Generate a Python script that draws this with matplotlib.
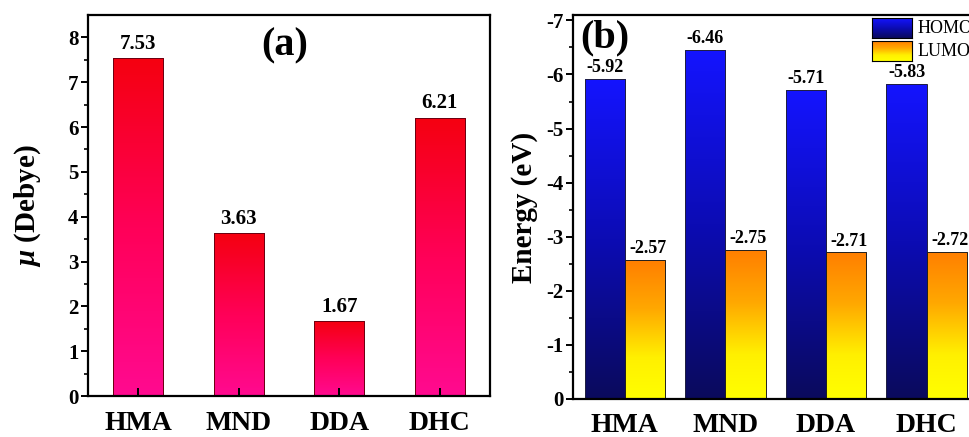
import numpy as np
import matplotlib
matplotlib.use("Agg")
import matplotlib.pyplot as plt
from matplotlib.colors import LinearSegmentedColormap

# ---- data ----
molecules = ["HMA", "MND", "DDA", "DHC"]
dipole = [7.53, 3.63, 1.67, 6.21]
homo = [-5.92, -6.46, -5.71, -5.83]
lumo = [-2.57, -2.75, -2.71, -2.72]
dipole_ticks = [0, 1, 2, 3, 4, 5, 6, 7, 8]
energy_ticks = [0, -1, -2, -3, -4, -5, -6, -7]

plt.rcParams['font.family'] = ['Liberation Serif', 'DejaVu Serif']
plt.rcParams['mathtext.fontset'] = 'custom'
plt.rcParams['mathtext.it'] = 'Liberation Serif:italic:bold'
plt.rcParams['mathtext.rm'] = 'Liberation Serif:bold'
plt.rcParams['axes.unicode_minus'] = False

W, H = 969, 437
fig = plt.figure(figsize=(W / 100, H / 100), dpi=100)
fig.patch.set_facecolor('white')

red_cmap = LinearSegmentedColormap.from_list('rp', ['#ff0a90', '#ff0058', '#f50010'])
blue_cmap = LinearSegmentedColormap.from_list('bl', ['#0a0a5c', '#0c0cb4', '#1414ff'])
yel_cmap = LinearSegmentedColormap.from_list('yo', [(0, '#ffff00'), (0.3, '#fff000'), (0.65, '#ffa800'), (1, '#ff7f00')])

grad = np.linspace(0, 1, 256).reshape(-1, 1)


def gradient_fill(ax, rect, cmap):
    x, y = rect.get_x(), rect.get_y()
    w, h = rect.get_width(), rect.get_height()
    im = ax.imshow(grad, extent=[x, x + w, y, y + h], origin='lower', cmap=cmap,
                   aspect='auto', zorder=1.5, interpolation='bilinear')
    im.set_clip_path(rect)


def style_axes(ax):
    for s in ax.spines.values():
        s.set_linewidth(1.6)
    ax.tick_params(axis='y', which='major', direction='out', length=5, width=1.4,
                   labelsize=15, pad=2)
    ax.tick_params(axis='y', which='minor', direction='out', length=3, width=1.2)
    for lab in ax.get_yticklabels():
        lab.set_fontweight('bold')


# ---- panel (a) ----
ax1 = fig.add_axes([88 / W, 1 - 396 / H, 402 / W, 381 / H])
xa = np.arange(len(molecules))
bars = ax1.bar(xa, dipole, width=0.5, facecolor='none', edgecolor='#6a0010',
               linewidth=0.7, zorder=2)
for b, v in zip(bars, dipole):
    gradient_fill(ax1, b, red_cmap)
    ax1.annotate(f"{v:.2f}", (b.get_x() + b.get_width() / 2, v), xytext=(0, 3),
                 textcoords='offset points', ha='center', va='bottom',
                 fontsize=15, fontweight='bold')
ax1.set_xlim(-0.5, 3.5)
ax1.set_ylim(0, 8.5)
ax1.set_yticks(dipole_ticks)
ax1.set_yticks(np.arange(0.5, 8.5, 1.0), minor=True)
ax1.set_xticks(xa)
ax1.set_xticklabels(molecules, fontsize=20, fontweight='bold')
ax1.tick_params(axis='x', direction='in', length=6, width=1.4, pad=11)
style_axes(ax1)
ax1.set_ylabel(r'$\mu$ (Debye)', fontsize=21, fontweight='bold', labelpad=18)
ax1.text(0.49, 0.92, '(a)', transform=ax1.transAxes, ha='center', va='center',
         fontsize=29, fontweight='bold')

# ---- panel (b) ----
ax2 = fig.add_axes([573 / W, 1 - 399 / H, 404 / W, 384 / H])
xb = np.arange(len(molecules))
bw = 0.4
hb = ax2.bar(xb - bw / 2, homo, width=bw, facecolor='none', edgecolor='#202040',
             linewidth=0.7, zorder=2)
lb = ax2.bar(xb + bw / 2, lumo, width=bw, facecolor='none', edgecolor='#202020',
             linewidth=0.7, zorder=2)
for b, v in zip(hb, homo):
    gradient_fill(ax2, b, blue_cmap)
    ax2.annotate(f"{v:.2f}", (b.get_x() + b.get_width() / 2, v), xytext=(0, 2),
                 textcoords='offset points', ha='center', va='bottom',
                 fontsize=13, fontweight='bold')
for b, v in zip(lb, lumo):
    gradient_fill(ax2, b, yel_cmap)
    ax2.annotate(f"{v:.2f}", (b.get_x() + b.get_width() / 2, v), xytext=(2, 2),
                 textcoords='offset points', ha='center', va='bottom',
                 fontsize=13, fontweight='bold')
ax2.set_xlim(-0.515, 3.5)
ax2.set_ylim(0, -7.1)
ax2.set_yticks(energy_ticks)
ax2.set_yticks(np.arange(-0.5, -7.1, -1.0), minor=True)
ax2.set_xticks(xb)
ax2.set_xticklabels(molecules, fontsize=20, fontweight='bold')
ax2.tick_params(axis='x', length=0, pad=10)
style_axes(ax2)
ax2.set_ylabel('Energy (eV)', fontsize=21, fontweight='bold', labelpad=6)
ax2.text(0.017, 0.94, '(b)', transform=ax2.transAxes, ha='left', va='center',
         fontsize=29, fontweight='bold')

# legend (gradient swatches)
for (y0, cmap, label) in [(0.940, blue_cmap, 'HOMO'), (0.880, yel_cmap, 'LUMO')]:
    hax = ax2.inset_axes([0.740, y0, 0.099, 0.052])
    hax.imshow(grad, origin='lower', cmap=cmap, aspect='auto', extent=[0, 1, 0, 1])
    hax.set_xticks([])
    hax.set_yticks([])
    for s in hax.spines.values():
        s.set_linewidth(0.8)
    ax2.text(0.852, y0 + 0.026, label, transform=ax2.transAxes, ha='left',
             va='center', fontsize=13)

fig.savefig('out.png', dpi=100, facecolor='white')
